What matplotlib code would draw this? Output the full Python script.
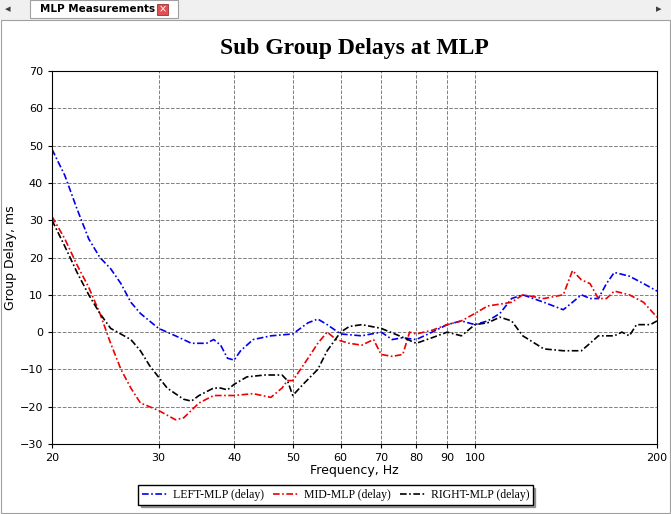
import matplotlib
matplotlib.use("Agg")
import matplotlib.pyplot as plt
from matplotlib.patches import Rectangle

left_f = [20,21,22,23,24,25,26,27,28,30,32,34,36,37,38,39,40,41,43,46,50,53,55,57,60,65,70,73,76,80,85,90,95,100,105,110,115,120,130,140,145,150,155,160,165,170,180,190,200]
left_d = [49,42,33,25,20,17,13,8,5,1,-1,-3,-3,-2,-3.5,-7,-7.5,-5,-2,-1,-0.5,2.5,3.5,2,-0.5,-1,0,-2,-1.5,-2,0,2,3,2,3,5,9,10,8,6,8,10,9,9,13,16,15,13,11]
mid_f = [20,21,22,23,24,25,26,27,28,30,32,33,35,37,40,43,46,48,49,50,52,54,55,57,59,62,65,68,70,73,76,78,80,85,90,95,100,105,110,115,120,130,140,145,150,155,160,165,170,180,190,200]
mid_d = [31,25,18,12,5,-3,-10,-15,-19,-21,-23.5,-23,-19,-17,-17,-16.5,-17.5,-15,-13,-13,-9,-5,-3,0,-2,-3,-3.5,-2,-6,-6.5,-6,0,-0.5,0.5,2,3,5,7,7.5,8,10,9,10,16.5,14,13,9,9,11,10,8,4]
right_f = [20,21,22,23,24,25,27,28,29,31,33,34,35,37,38,39,40,42,45,48,49,50,52,55,57,60,62,65,70,75,80,85,90,95,100,105,110,115,120,130,140,150,155,160,170,175,180,185,195,200]
right_d = [30,23,16,10,5,1,-2,-5,-9,-15,-18,-18.5,-17,-15,-15,-15.5,-14,-12,-11.5,-11.5,-13,-17,-14,-10,-5,0,1.5,2,1,-1,-3,-1.5,0,-1,2,2.5,4,3,-1,-4.5,-5,-5,-3,-1,-1,0,-1,2,2,3]
xticks = [20,30,40,50,60,70,80,90,100,200]
yticks = list(range(-30, 71, 10))

fig = plt.figure(figsize=(6.71, 5.14), dpi=100)
fig.patches.append(Rectangle((0, 494/514), 1, 20/514, transform=fig.transFigure, facecolor="#f0f0f0", edgecolor="none"))
fig.patches.append(Rectangle((30/671, 496/514), 148/671, 18/514, transform=fig.transFigure, facecolor="white", edgecolor="#a0a0a0", lw=0.8))
fig.text(40/671, 505/514, "MLP Measurements", fontsize=7.5, fontweight="bold", va="center", family="DejaVu Sans")
fig.patches.append(Rectangle((157/671, 499/514), 11/671, 11/514, transform=fig.transFigure, facecolor="#e05050", edgecolor="#a03030", lw=0.6))
fig.text(162.5/671, 504.5/514, "×", fontsize=7, color="white", ha="center", va="center")
fig.text(8/671, 505/514, "◂", fontsize=8, color="#404040", ha="center", va="center")
fig.text(659/671, 505/514, "▸", fontsize=8, color="#404040", ha="center", va="center")
fig.patches.append(Rectangle((1/671, 1/514), 669/671, 493/514, transform=fig.transFigure, facecolor="none", edgecolor="#a0a0a0", lw=0.8))

ax = fig.add_axes([52/671, 70/514, 605/671, 373/514])
dash = (0, (4, 1.5, 1, 1.5))
ax.plot(left_f, left_d, color="#0000ee", ls=dash, lw=1.2, label="LEFT-MLP (delay)")
ax.plot(mid_f, mid_d, color="#ee0000", ls=dash, lw=1.2, label="MID-MLP (delay)")
ax.plot(right_f, right_d, color="black", ls=dash, lw=1.2, label="RIGHT-MLP (delay)")
ax.set_xscale("log")
ax.set_xlim(20, 200)
ax.set_ylim(-30, 70)
ax.set_xticks(xticks)
ax.set_xticklabels([str(t) for t in xticks])
ax.minorticks_off()
ax.set_yticks(yticks)
ax.tick_params(labelsize=8, length=3)
ax.grid(True, color="#808080", ls="--", lw=0.7)
ax.set_xlabel("Frequency, Hz", fontsize=9, labelpad=1)
ax.set_ylabel("Group Delay, ms", fontsize=9, labelpad=2)
ax.set_title("Sub Group Delays at MLP", fontsize=17, fontweight="bold", family="Liberation Serif", pad=12)
fig.legend(loc="center", bbox_to_anchor=(0.5, 19/514), ncol=3, frameon=True, fancybox=False,
           edgecolor="black", shadow=True, prop={"family": "Liberation Serif", "size": 8.5},
           handlelength=2.2, columnspacing=0.8, borderpad=0.3, handletextpad=0.4)
fig.savefig("out.png", dpi=100)
